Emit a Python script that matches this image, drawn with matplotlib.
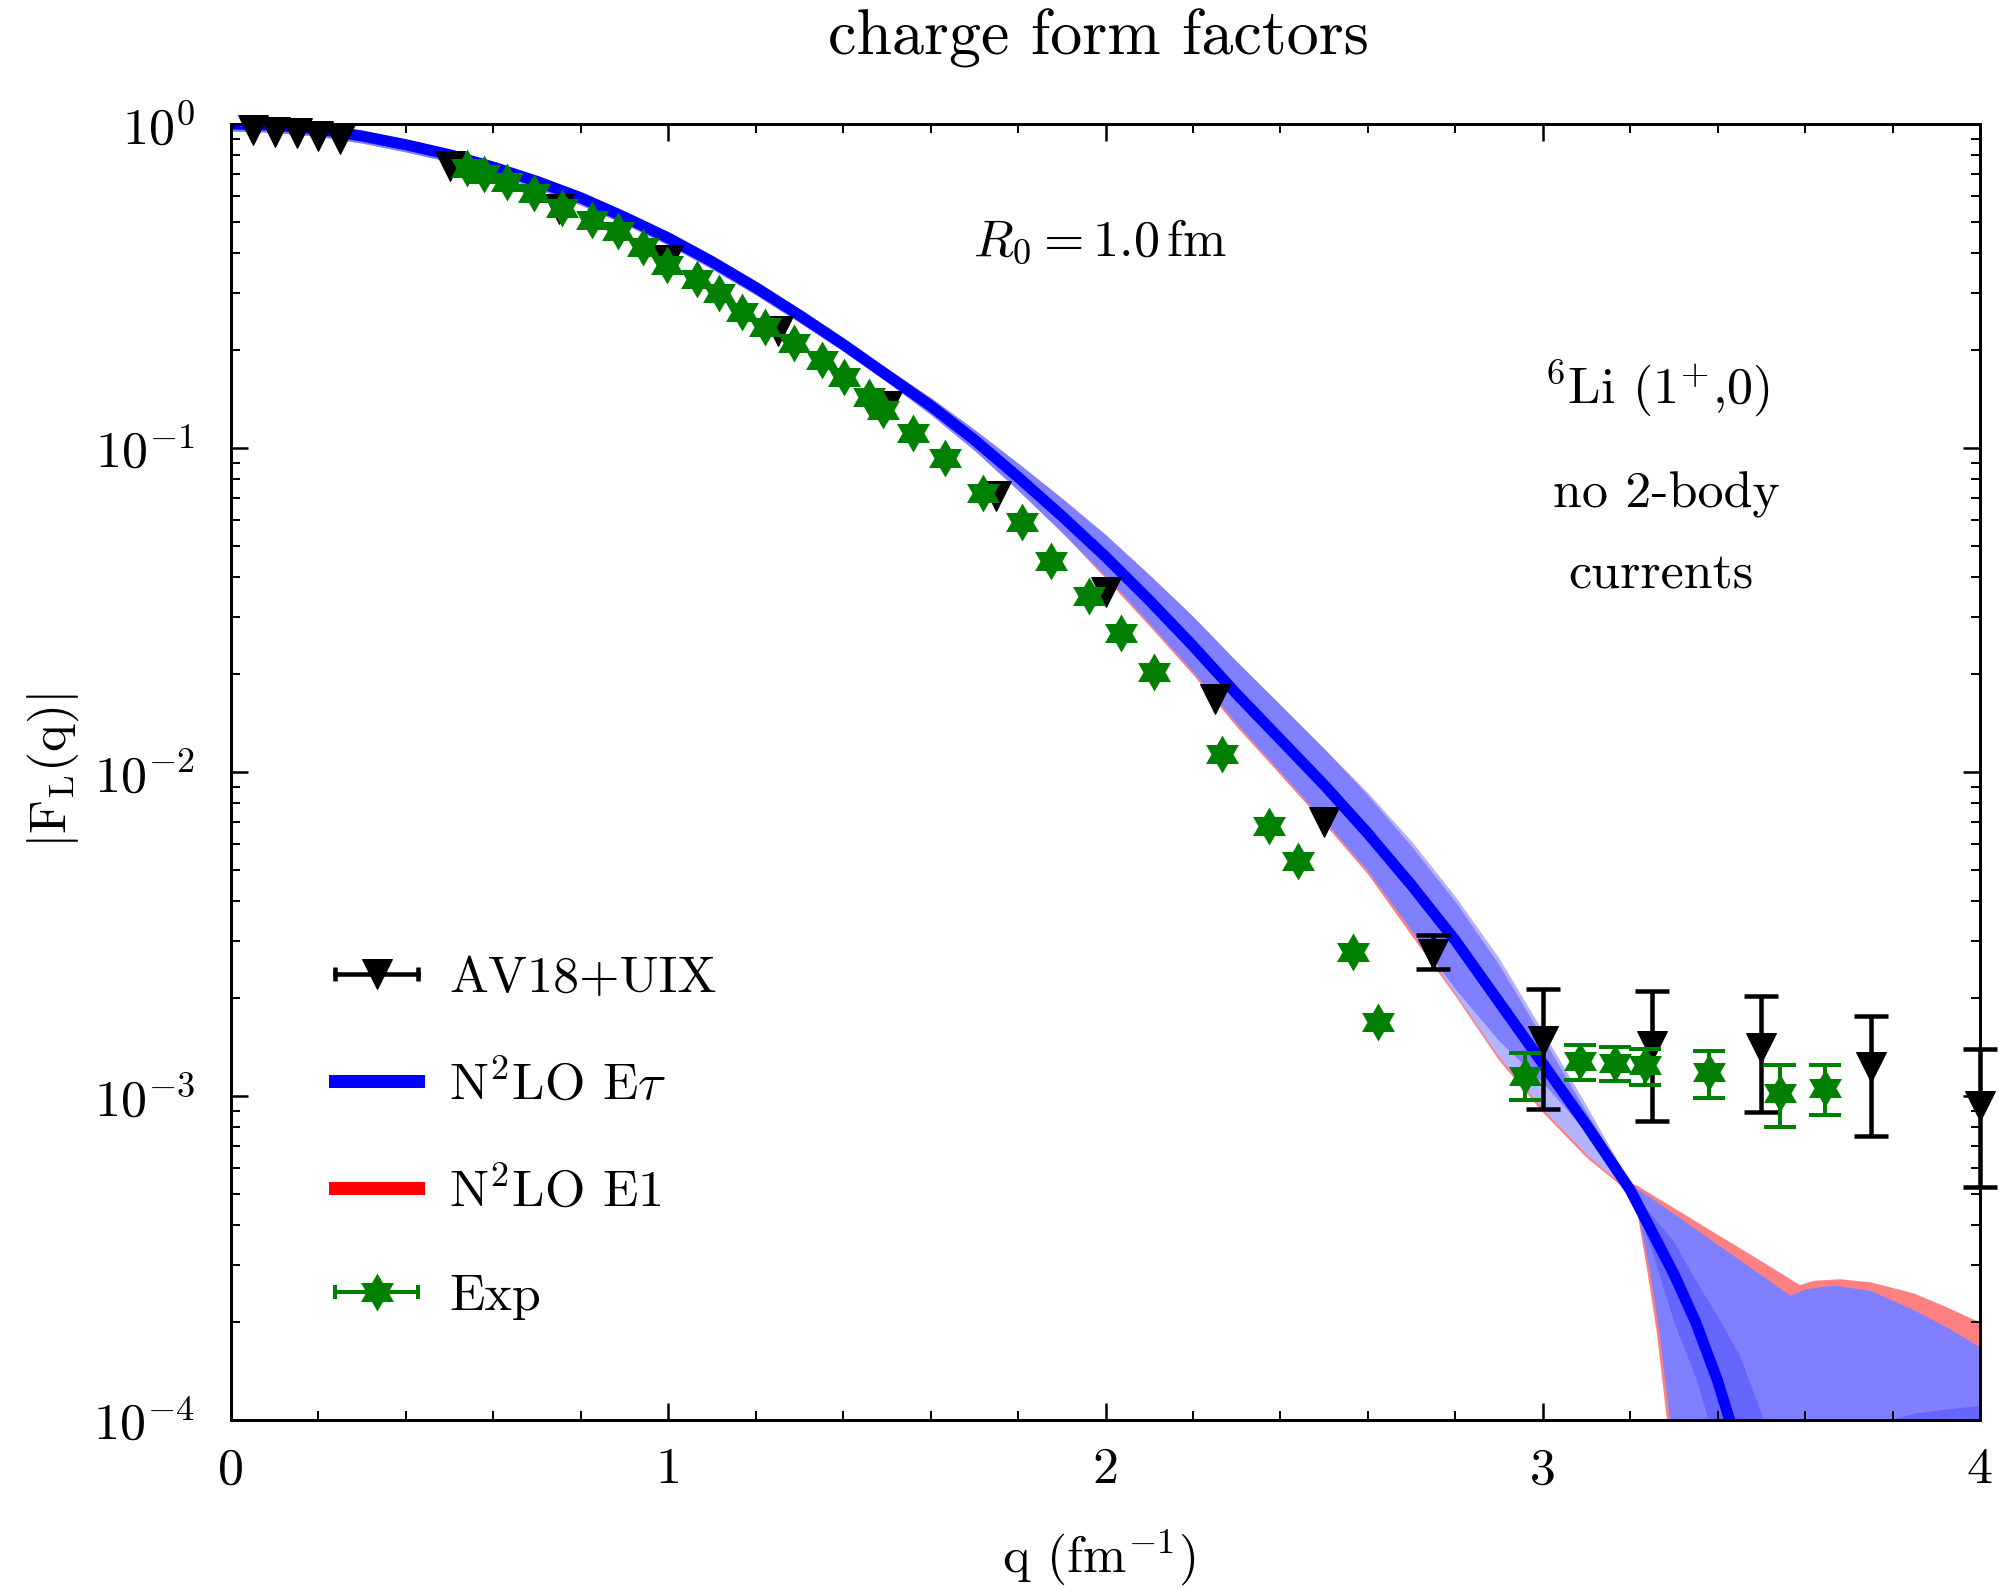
import matplotlib
matplotlib.use("Agg")
import matplotlib.pyplot as plt
import numpy as np
from matplotlib.lines import Line2D
from matplotlib.path import Path
from matplotlib.legend_handler import HandlerLine2D, HandlerTuple
from matplotlib.ticker import LogLocator, NullFormatter, MultipleLocator

plt.rcParams['font.family'] = 'serif'
plt.rcParams['font.serif'] = ['cmr10']
plt.rcParams['mathtext.fontset'] = 'cm'
plt.rcParams['axes.formatter.use_mathtext'] = True

# ---- N2LO E-tau central curve ----
q_line = [0.0, 0.1, 0.2, 0.3, 0.4, 0.5, 0.6, 0.7, 0.8, 0.9, 1.0, 1.1, 1.2, 1.3,
          1.4, 1.5, 1.6, 1.7, 1.8, 1.9, 2.0, 2.1, 2.2, 2.3, 2.4, 2.5, 2.6, 2.7,
          2.8, 2.9, 3.0, 3.1, 3.2, 3.3, 3.35, 3.4, 3.45]
f_line = [1.0, 0.991, 0.964, 0.918, 0.863, 0.804, 0.736, 0.665, 0.592, 0.516,
          0.445, 0.376, 0.313, 0.257, 0.209, 0.168, 0.135, 0.106, 0.0813, 0.0617,
          0.0462, 0.0339, 0.0245, 0.0174, 0.0126, 0.00912, 0.00646, 0.00447,
          0.00302, 0.00195, 0.00126, 0.000813, 0.000513, 0.000282, 0.000200,
          0.000132, 0.0000794]

# ---- bands (grid 0 .. 3.2) ----
q_band = [0.0, 0.1, 0.2, 0.3, 0.4, 0.5, 0.6, 0.7, 0.8, 0.9, 1.0, 1.1, 1.2, 1.3,
          1.4, 1.5, 1.6, 1.7, 1.8, 1.9, 2.0, 2.1, 2.2, 2.3, 2.4, 2.5, 2.6, 2.7,
          2.8, 2.9, 3.0, 3.1, 3.2]
mid_upper = [1.037, 1.028, 1.000, 0.953, 0.895, 0.834, 0.764, 0.690, 0.614, 0.536,
             0.461, 0.390, 0.324, 0.267, 0.217, 0.176, 0.143, 0.114, 0.0897, 0.0700,
             0.0540, 0.0406, 0.0302, 0.0219, 0.0161, 0.0118, 0.00847, 0.00589,
             0.00398, 0.00254, 0.00151, 0.000891, 0.000531]
mid_lower = [0.951, 0.942, 0.916, 0.873, 0.820, 0.764, 0.700, 0.632, 0.562, 0.491,
             0.423, 0.357, 0.297, 0.244, 0.199, 0.160, 0.127, 0.0984, 0.0741, 0.0550,
             0.0403, 0.0288, 0.0204, 0.0141, 0.0100, 0.00708, 0.00495, 0.00324,
             0.00214, 0.00148, 0.00110, 0.000776, 0.000501]
light_upper = [1.037, 1.028, 1.000, 0.953, 0.895, 0.834, 0.764, 0.690, 0.614, 0.536,
               0.461, 0.390, 0.324, 0.267, 0.217, 0.176, 0.143, 0.114, 0.0897, 0.0700,
               0.0540, 0.0406, 0.0302, 0.0219, 0.0161, 0.0118, 0.00861, 0.00610,
               0.00412, 0.00266, 0.00158, 0.000933, 0.000537]
light_lower = [0.951, 0.942, 0.916, 0.873, 0.820, 0.764, 0.700, 0.632, 0.562, 0.491,
               0.423, 0.357, 0.297, 0.244, 0.199, 0.160, 0.127, 0.0984, 0.0741, 0.0550,
               0.0403, 0.0288, 0.0204, 0.0141, 0.0100, 0.00708, 0.00495, 0.00324,
               0.00207, 0.00132, 0.000912, 0.000661, 0.000507]

# ---- N2LO E1 band (red) ----
q_red = q_band + [3.215, 3.238, 3.261, 3.284, 3.3, 3.4, 3.5, 3.588, 3.62, 3.68,
                  3.75, 3.848, 3.92, 4.0]
red_upper = light_upper + [0.000530, 0.000507, 0.000485, 0.000465, 0.000451,
                           0.000373, 0.000309, 0.000261, 0.000269, 0.000272,
                           0.000266, 0.000246, 0.000224, 0.000200]
red_lower = [0.951, 0.942, 0.916, 0.873, 0.820, 0.764, 0.700, 0.632, 0.562, 0.491,
             0.423, 0.357, 0.297, 0.244, 0.199, 0.160, 0.127, 0.0984, 0.0741, 0.0550,
             0.0396, 0.0283, 0.0200, 0.0138, 0.00980, 0.00694, 0.00484, 0.00313,
             0.00204, 0.00129, 0.000891, 0.000646, 0.000501,
             0.000447, 0.000295, 0.000186, 0.000100, 0.0000316, 1e-5, 1e-5, 1e-5,
             1e-5, 1e-5, 1e-5, 1e-5, 1e-5, 1e-5]

# ---- E-tau band beyond the pinch ----
q_mid_tail = [3.2, 3.22, 3.243, 3.266, 3.29, 3.3, 3.4, 3.5, 3.565, 3.6, 3.665,
              3.75, 3.848, 3.92, 4.0]
mid_tail_upper = [0.000531, 0.000514, 0.000490, 0.000466, 0.000442, 0.000433,
                  0.000348, 0.000280, 0.000243, 0.000254, 0.000261, 0.000251,
                  0.000219, 0.000195, 0.000168]
mid_tail_lower = [0.000501, 0.000417, 0.000295, 0.000186, 0.000100, 0.0000316,
                  1e-5, 1e-5, 1e-5, 1e-5, 1e-5, 1e-5, 1e-5, 1e-5, 1e-5]

q_dark = [3.2, 3.25, 3.3, 3.35, 3.4, 3.45, 3.5, 3.53]
dark_upper = [0.000513, 0.000427, 0.000355, 0.000269, 0.000209, 0.000158,
              0.000105, 0.0000708]
dark_lower = [0.000513, 0.000331, 0.000200, 0.000135, 0.0000794, 0.0000500,
              0.0000316, 0.0000250]
q_corner = [3.77, 3.79, 3.85, 3.92, 4.0]
corner_upper = [0.0000955, 0.000100, 0.000105, 0.000108, 0.000111]
corner_lower = [1e-5, 1e-5, 1e-5, 1e-5, 1e-5]

# ---- AV18+UIX ----
q_av = [0.05, 0.10, 0.15, 0.20, 0.25, 0.5, 0.75, 1.0, 1.25, 1.5, 1.75, 2.0,
        2.25, 2.5, 2.75, 3.0, 3.25, 3.5, 3.75, 4.0]
f_av = [0.958, 0.947, 0.936, 0.920, 0.901, 0.741, 0.547, 0.380, 0.230, 0.135,
        0.0713, 0.0359, 0.0168, 0.0070, 0.00274, 0.00148, 0.00143, 0.00141,
        0.001225, 0.000933]
av_hi = [0.958, 0.947, 0.936, 0.920, 0.901, 0.741, 0.547, 0.380, 0.230, 0.135,
         0.0713, 0.0359, 0.0168, 0.0070, 0.00313, 0.00214, 0.00211, 0.00204,
         0.00176, 0.00140]
av_lo = [0.958, 0.947, 0.936, 0.920, 0.901, 0.741, 0.547, 0.380, 0.230, 0.135,
         0.0713, 0.0359, 0.0168, 0.0070, 0.00247, 0.000912, 0.000839, 0.000891,
         0.000753, 0.000522]

# ---- experiment ----
q_exp = [0.539, 0.579, 0.632, 0.693, 0.758, 0.825, 0.884, 0.943, 0.998, 1.065,
         1.116, 1.168, 1.221, 1.288, 1.351, 1.402, 1.458, 1.492, 1.560, 1.633,
         1.719, 1.809, 1.875, 1.963, 2.035, 2.112, 2.266, 2.375, 2.441, 2.567,
         2.623, 2.960, 3.085, 3.165, 3.234, 3.381, 3.543, 3.646]
f_exp = [0.730, 0.700, 0.664, 0.611, 0.550, 0.506, 0.468, 0.416, 0.367, 0.333,
         0.301, 0.262, 0.236, 0.211, 0.187, 0.166, 0.144, 0.131, 0.111, 0.0929,
         0.0724, 0.0593, 0.0447, 0.0350, 0.0268, 0.0203, 0.0114, 0.00681,
         0.00532, 0.00279, 0.00169, 0.00115, 0.00128, 0.00126, 0.00125,
         0.00119, 0.00102, 0.00106]
exp_hi = f_exp[:31] + [0.00136, 0.00144, 0.00142, 0.00140, 0.00138, 0.00125, 0.00125]
exp_lo = f_exp[:31] + [0.000973, 0.00112, 0.00111, 0.00108, 0.000984, 0.000804, 0.000873]

# hexagram marker for the data
ang = np.deg2rad(90 + 30 * np.arange(12))
rad = np.where(np.arange(12) % 2 == 0, 1.0, 1 / np.sqrt(3))
star = Path(np.column_stack([rad * np.cos(ang), rad * np.sin(ang)]), closed=False)

fig = plt.figure(figsize=(1999 / 72, 1590 / 72), dpi=72)
ax = fig.add_axes([231 / 1999, 170 / 1590, 1749 / 1999, 1296 / 1590])
ax.set_yscale('log')

ax.fill_between(q_red, red_lower, red_upper, color='#FF8080', lw=0, zorder=1)
ax.fill_between(q_band, light_lower, light_upper, color='#B3B3FF', lw=0, zorder=1.1)
ax.fill_between(q_band, mid_lower, mid_upper, color='#8080FF', lw=0, zorder=1.2)
ax.fill_between(q_mid_tail, mid_tail_lower, mid_tail_upper, color='#8080FF', lw=0, zorder=1.2)
ax.fill_between(q_dark, dark_lower, dark_upper, color='#6666FF', lw=0, zorder=1.3)
ax.fill_between(q_corner, corner_lower, corner_upper, color='#6666FF', lw=0, zorder=1.3)
ax.plot(q_line, f_line, color='#0000FF', lw=11, solid_capstyle='butt', zorder=2)

# AV18+UIX: markers, error bars only where visible
f_av_a, av_lo_a, av_hi_a = np.array(f_av), np.array(av_lo), np.array(av_hi)
m = av_hi_a > av_lo_a
eb = ax.errorbar(np.array(q_av)[m], f_av_a[m], yerr=[f_av_a[m] - av_lo_a[m], av_hi_a[m] - f_av_a[m]],
                 fmt='none', ecolor='black', elinewidth=4.5, capsize=17, capthick=4.5, zorder=3)
for art in eb.get_children():
    art.set_clip_on(False)
ax.plot(q_av, f_av, ls='none', marker='v', ms=30, color='black', zorder=3.1, clip_on=False)

f_exp_a, exp_lo_a, exp_hi_a = np.array(f_exp), np.array(exp_lo), np.array(exp_hi)
m = exp_hi_a > exp_lo_a
ax.errorbar(np.array(q_exp)[m], f_exp_a[m], yerr=[f_exp_a[m] - exp_lo_a[m], exp_hi_a[m] - f_exp_a[m]],
            fmt='none', ecolor='green', elinewidth=4, capsize=16, capthick=4, zorder=4)
ax.plot(q_exp, f_exp, ls='none', marker=star, ms=38, color='green', mec='green',
        mew=0, zorder=5)

ax.set_xlim(0, 4)
ax.set_ylim(1e-4, 1)
ax.set_xticks([0, 1, 2, 3, 4])
ax.set_xticklabels(['0', '1', '2', '3', '4'])
ax.xaxis.set_minor_locator(MultipleLocator(0.2))
ax.set_yticks([1e-4, 1e-3, 1e-2, 1e-1, 1])
ax.set_yticklabels([r'$10^{-4}$', r'$10^{-3}$', r'$10^{-2}$', r'$10^{-1}$', r'$10^{0}$'])
ax.yaxis.set_minor_locator(LogLocator(base=10, subs=np.arange(2, 10)))
ax.yaxis.set_minor_formatter(NullFormatter())
ax.tick_params(which='both', direction='in', top=True, right=True, labelsize=52)
ax.tick_params(which='major', length=17, width=2.5)
ax.tick_params(which='minor', length=9, width=2)
ax.tick_params(axis='x', pad=28)
ax.tick_params(axis='y', pad=36)
for s in ax.spines.values():
    s.set_linewidth(3)

fig.text(1099 / 1999, 1 - 38 / 1590, 'charge form factors', fontsize=64,
         ha='center', va='center')
fig.text(1099 / 1999, 1 - 1558 / 1590, r'q (fm$^{-1}$)', fontsize=52,
         ha='center', va='center')
fig.text(53 / 1999, 1 - 771 / 1590, r'$|\mathrm{F}_{\mathrm{L}}(\mathrm{q})|$',
         fontsize=52, rotation=90, ha='center', va='center')

ax.text(0.497, 0.909, r'$R_0 = 1.0\,\mathrm{fm}$', transform=ax.transAxes,
        fontsize=52, ha='center', va='center')
ax.text(0.8155, 0.7955, r'$^{6}$Li (1$^{+}$,0)', transform=ax.transAxes,
        fontsize=52, ha='center', va='center')
ax.text(0.8205, 0.714, 'no 2-body', transform=ax.transAxes,
        fontsize=52, ha='center', va='center')
ax.text(0.8176, 0.651, 'currents', transform=ax.transAxes,
        fontsize=52, ha='center', va='center')

# legend with horizontal error-bar style handles
av_bar = Line2D([], [], color='black', lw=4.5, marker='|', ms=14, mew=4.5)
av_mk = Line2D([], [], color='black', ls='none', marker='v', ms=30)
ex_bar = Line2D([], [], color='green', lw=4, marker='|', ms=14, mew=4)
ex_mk = Line2D([], [], color='green', ls='none', marker=star, ms=38, mew=0)
h_tau = Line2D([], [], color='#0000FF', lw=13)
h_e1 = Line2D([], [], color='#FF0000', lw=13)
hm = {av_bar: HandlerLine2D(numpoints=2, marker_pad=0),
      ex_bar: HandlerLine2D(numpoints=2, marker_pad=0),
      tuple: HandlerTuple(ndivide=1, pad=0)}
ax.legend([(av_bar, av_mk), h_tau, h_e1, (ex_bar, ex_mk)],
          ['AV18+UIX', r'N$^2$LO E$\tau$', r'N$^2$LO E1', 'Exp'],
          handler_map=hm, loc='upper left', bbox_to_anchor=(0.0595, 0.358),
          frameon=False, fontsize=52, handlelength=1.6, handletextpad=0.6,
          labelspacing=1.11, borderpad=0, borderaxespad=0)

fig.savefig('out.png', dpi=72)
